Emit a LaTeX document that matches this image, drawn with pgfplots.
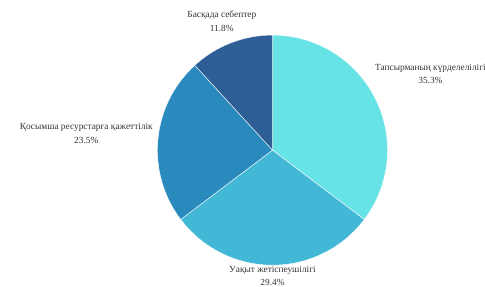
\documentclass[border=0pt]{standalone}
\usepackage{pgfplots}
\usepackage{pgfplotstable}
\pgfplotsset{compat=1.18}
\usepackage{fontspec}
\setmainfont{Liberation Serif}
\definecolor{c1}{HTML}{67E3E6}
\definecolor{c2}{HTML}{42B8D6}
\definecolor{c3}{HTML}{2B8ABD}
\definecolor{c4}{HTML}{2D5E96}
\definecolor{txt}{HTML}{333333}
\pgfplotstableread{
idx value
0 35.3
1 29.4
2 23.5
3 11.8
}\piedata
\begin{document}
\pgfplotstablegetelem{0}{value}\of\piedata\let\va\pgfplotsretval
\pgfplotstablegetelem{1}{value}\of\piedata\let\vb\pgfplotsretval
\pgfplotstablegetelem{2}{value}\of\piedata\let\vc\pgfplotsretval
\pgfplotstablegetelem{3}{value}\of\piedata\let\vd\pgfplotsretval
\pgfmathsetmacro{\aA}{90}
\pgfmathsetmacro{\aB}{\aA-3.6*\va}
\pgfmathsetmacro{\aC}{\aB-3.6*\vb}
\pgfmathsetmacro{\aD}{\aC-3.6*\vc}
\pgfmathsetmacro{\aE}{\aD-3.6*\vd}
\begin{tikzpicture}
\begin{axis}[
  width=485pt, height=294pt, scale only axis,
  xmin=0, xmax=485, ymin=0, ymax=294,
  hide axis, clip=false, xtick=\empty, ytick=\empty,
]
\addplot[draw=none] coordinates {(0,0) (485,294)};
\def\R{118pt}
\fill[c1, draw=white, line width=0.4pt] (axis cs:267,140) -- ++(\aA:\R) arc[start angle=\aA, end angle=\aB, radius=\R] -- cycle;
\fill[c2, draw=white, line width=0.4pt] (axis cs:267,140) -- ++(\aB:\R) arc[start angle=\aB, end angle=\aC, radius=\R] -- cycle;
\fill[c3, draw=white, line width=0.4pt] (axis cs:267,140) -- ++(\aC:\R) arc[start angle=\aC, end angle=\aD, radius=\R] -- cycle;
\fill[c4, draw=white, line width=0.4pt] (axis cs:267,140) -- ++(\aD:\R) arc[start angle=\aD, end angle=\aE, radius=\R] -- cycle;
\tikzset{lbl/.style={overlay, align=center, font=\fontsize{9.6}{14}\selectfont, text=txt, inner sep=0pt}}
\node[lbl] at (axis cs:429,218) {Тапсырманың күрделелілігі\\\va\%};
\node[lbl] at (axis cs:267,11) {Уақыт жетіспеушілігі\\\vb\%};
\node[lbl] at (axis cs:76,157) {Қосымша ресурстарға қажеттілік\\\vc\%};
\node[lbl] at (axis cs:215,272) {Басқада себептер\\\vd\%};
\end{axis}
\end{tikzpicture}
\end{document}
